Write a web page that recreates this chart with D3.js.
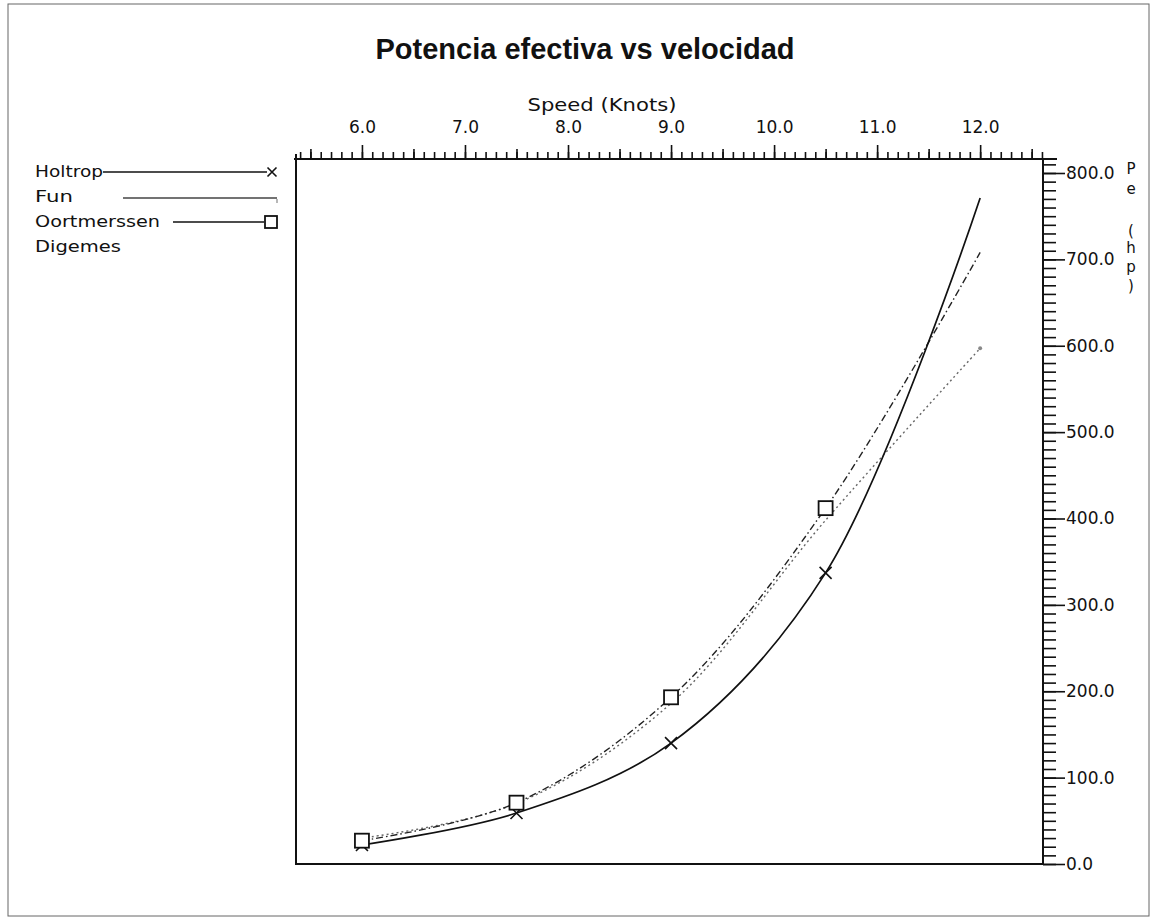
<!DOCTYPE html>
<html lang="es">
<head>
<meta charset="utf-8">
<title>Potencia efectiva vs velocidad</title>
<script src="https://d3js.org/d3.v7.min.js"></script>
<style>
  body { margin: 0; background: #fff; }
  text { fill: #111; }
</style>
</head>
<body>
<svg id="chart" width="1155" height="922"></svg>
<script>
// values
var speeds      = [6.0, 7.5, 9.0, 10.5, 12.0];
var holtrop     = [22, 59, 140, 337, 771];
var fun         = [30, 70, 186, 398, 597];
var oortmerssen = [27, 71, 193, 412, 708];
var speedTicks  = [6, 7, 8, 9, 10, 11, 12];
var powerTicks  = [0, 100, 200, 300, 400, 500, 600, 700, 800];
var legendNames = ["Holtrop", "Fun", "Oortmerssen", "Digemes"];

var svg = d3.select("#chart"),
    plotLeft = 296, plotRight = 1043, plotTop = 159, plotBottom = 864;

// outer frame of the scan
svg.append("rect")
  .attr("x", 8).attr("y", 4).attr("width", 1141).attr("height", 912)
  .attr("fill", "none").attr("stroke", "#666").attr("stroke-width", 1);

var x = d3.scaleLinear().domain([5.36, 12.61]).range([plotLeft, plotRight]);
var y = d3.scaleLinear().domain([0, 800]).range([plotBottom, 173]);

// title
svg.append("text")
  .attr("x", 585).attr("y", 59)
  .attr("text-anchor", "middle")
  .style("font-family", "'Liberation Sans', Arial, sans-serif")
  .style("font-weight", "bold")
  .style("font-size", "29px")
  .text("Potencia efectiva vs velocidad");

// plot frame (left + bottom)
svg.append("path")
  .attr("d", "M" + plotLeft + "," + (plotTop - 5) + "V" + plotBottom + "H" + plotRight)
  .attr("fill", "none").attr("stroke", "#111").attr("stroke-width", 2);

// top axis: minor, half and major ticks
var topG = svg.append("g").attr("transform", "translate(0," + plotTop + ")");
topG.append("g")
  .call(d3.axisTop(x).tickValues(d3.range(5.4, 12.61, 0.1)).tickSize(7).tickFormat(""));
topG.append("g")
  .call(d3.axisTop(x).tickValues(d3.range(5.5, 12.6, 1)).tickSize(10).tickFormat(""));
topG.append("g")
  .call(d3.axisTop(x).tickValues(speedTicks).tickSize(14).tickPadding(12).tickFormat(d3.format(".1f")));
topG.selectAll(".domain").remove();
topG.append("line").attr("x1", plotLeft - 2).attr("x2", plotRight + 14)
  .attr("stroke", "#111").attr("stroke-width", 2);
topG.selectAll(".tick line").attr("stroke", "#111").attr("stroke-width", 1.6);
topG.selectAll(".tick text")
  .style("font-family", "'DejaVu Sans', sans-serif")
  .style("font-size", "17px").attr("fill", "#111");

svg.append("text")
  .attr("x", 602).attr("y", 111)
  .attr("text-anchor", "middle")
  .attr("textLength", 149).attr("lengthAdjust", "spacingAndGlyphs")
  .style("font-family", "'DejaVu Sans', sans-serif")
  .style("font-size", "17px")
  .text("Speed (Knots)");

// right axis
var rightG = svg.append("g").attr("transform", "translate(" + plotRight + ",0)");
rightG.append("g")
  .call(d3.axisRight(y).tickValues(d3.range(0, 811, 10)).tickSize(13).tickFormat(""));
rightG.append("g")
  .call(d3.axisRight(y).tickValues(powerTicks).tickSize(22).tickPadding(1).tickFormat(d3.format(".1f")));
rightG.selectAll(".domain").remove();
rightG.append("line").attr("y1", plotTop).attr("y2", plotBottom + 1)
  .attr("stroke", "#111").attr("stroke-width", 2);
rightG.selectAll(".tick line").attr("stroke", "#111").attr("stroke-width", 1.6);
rightG.selectAll(".tick text")
  .style("font-family", "'DejaVu Sans', sans-serif")
  .style("font-size", "17px").attr("fill", "#111");

// stacked axis title Pe (hp)
var unitChars = ["P", "e", "(", "h", "p", ")"];
var unitY = [174, 194, 236, 253, 272, 291];
unitChars.forEach(function (c, i) {
  svg.append("text").attr("x", 1131).attr("y", unitY[i]).attr("text-anchor", "middle")
    .style("font-family", "'DejaVu Sans', sans-serif").style("font-size", "15px").text(c);
});

// curves
svg.append("clipPath").attr("id", "plotClip")
  .append("rect").attr("x", plotLeft).attr("y", plotTop)
  .attr("width", plotRight - plotLeft).attr("height", plotBottom - plotTop);

var line = d3.line()
  .x(function (d) { return x(d[0]); })
  .y(function (d) { return y(d[1]); })
  .curve(d3.curveCatmullRom.alpha(0.5));

function pairs(vals) {
  return speeds.map(function (s, i) { return [s, vals[i]]; });
}

var series = [
  { name: "Fun", values: fun, color: "#666", width: 1.4, dash: "2,3" },
  { name: "Oortmerssen", values: oortmerssen, color: "#222", width: 1.4, dash: "7,3,1.5,3" },
  { name: "Holtrop", values: holtrop, color: "#111", width: 1.7, dash: null }
];

var plot = svg.append("g").attr("clip-path", "url(#plotClip)");
series.forEach(function (s) {
  plot.append("path")
    .datum(pairs(s.values))
    .attr("d", line)
    .attr("fill", "none")
    .attr("stroke", s.color)
    .attr("stroke-width", s.width)
    .attr("stroke-dasharray", s.dash);
});

function drawCross(g, cx, cy, r) {
  g.append("path")
    .attr("d", "M" + (cx - r) + "," + (cy - r) + "L" + (cx + r) + "," + (cy + r) +
               "M" + (cx - r) + "," + (cy + r) + "L" + (cx + r) + "," + (cy - r))
    .attr("stroke", "#111").attr("stroke-width", 1.6).attr("fill", "none");
}
function drawSquare(g, cx, cy, s) {
  g.append("rect")
    .attr("x", cx - s / 2).attr("y", cy - s / 2).attr("width", s).attr("height", s)
    .attr("fill", "#fff").attr("stroke", "#111").attr("stroke-width", 1.8);
}

// markers on the first four speeds
pairs(holtrop).slice(0, 4).forEach(function (d) { drawCross(svg, x(d[0]), y(d[1]), 6); });
pairs(oortmerssen).slice(0, 4).forEach(function (d) { drawSquare(svg, x(d[0]), y(d[1]), 14); });
var funEnd = pairs(fun)[4];
svg.append("circle").attr("cx", x(funEnd[0])).attr("cy", y(funEnd[1])).attr("r", 2).attr("fill", "#888");

// legend
var legend = svg.append("g")
  .style("font-family", "'DejaVu Sans', sans-serif")
  .style("font-size", "15px");
var legendY = [177, 202, 227, 252];
var legendW = [68, 38, 125, 86];
legendNames.forEach(function (n, i) {
  legend.append("text").attr("x", 35).attr("y", legendY[i])
    .attr("textLength", legendW[i]).attr("lengthAdjust", "spacingAndGlyphs")
    .text(n);
});
legend.append("line").attr("x1", 103).attr("x2", 267).attr("y1", 172).attr("y2", 172)
  .attr("stroke", "#111").attr("stroke-width", 1.6);
drawCross(legend, 272, 172, 4.5);
legend.append("line").attr("x1", 123).attr("x2", 277).attr("y1", 198).attr("y2", 198)
  .attr("stroke", "#444").attr("stroke-width", 1.3);
legend.append("line").attr("x1", 277).attr("x2", 277).attr("y1", 199).attr("y2", 203)
  .attr("stroke", "#888").attr("stroke-width", 1.2);
legend.append("line").attr("x1", 173).attr("x2", 264).attr("y1", 222).attr("y2", 222)
  .attr("stroke", "#111").attr("stroke-width", 1.6);
drawSquare(legend, 271, 222, 12);
</script>
</body>
</html>
